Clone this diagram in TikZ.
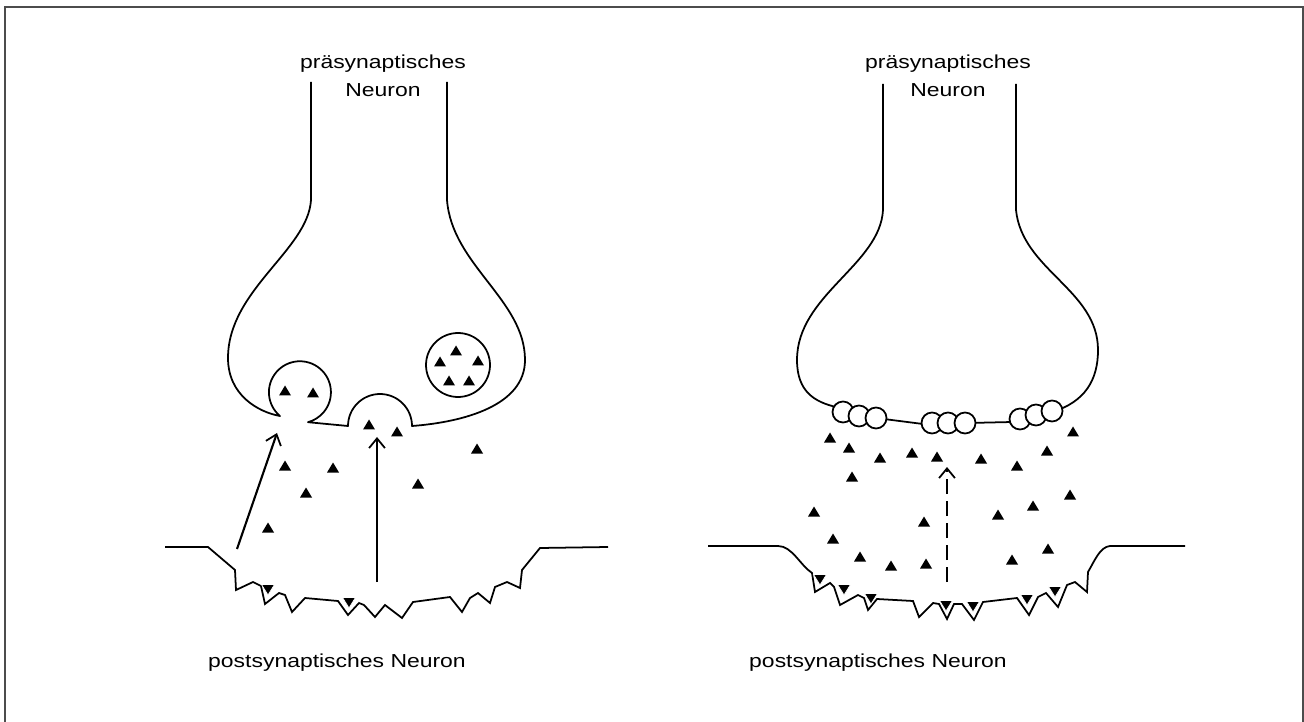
\documentclass[tikz,border=0pt]{standalone}
\usepackage{fontspec}
\newfontfamily\labelfont{Liberation Sans}[FakeStretch=1.22]
\usetikzlibrary{arrows.meta}
\begin{document}
\begin{tikzpicture}[x=0.02cm,y=-0.02cm,
  outline/.style={line width=1pt, line join=round},
  membrane/.style={line width=1pt, line join=miter, miter limit=4},
  txt/.style={font=\labelfont\fontsize{10.7}{12}\selectfont, inner sep=0pt, anchor=base},
  flow/.style={line width=1.2pt, -{Straight Barb[length=5.5pt,width=9pt,line width=1pt]}},
  bound/.style={fill=black, draw=white, line width=0.4pt},
]
\useasboundingbox (0,0) rectangle (1304,722);
% frame
\draw[line width=1.2pt, gray!60!black] (5,722) -- (5,7) -- (1303,7) -- (1303,722);

% ---------- left synapse ----------
% presynaptic terminal with fusing vesicles
\draw[outline] (311,82) -- (311,200)
  .. controls (308,250) and (228,290) .. (228,358)
  .. controls (228,395) and (258,412) .. (280,416)
  arc[start angle=130, end angle=435, radius=31]
  -- (348,426)
  arc[start angle=180, end angle=360, radius=32]
  .. controls (465,422) and (525,405) .. (525,360)
  .. controls (525,300) and (452,265) .. (447,200) -- (447,82);
% storage vesicle
\draw[outline] (458,365) circle[radius=32];
% transmitter molecules
\foreach \px/\py in {456/351, 440/362, 478/361, 449/381, 469/381,
                     285/391, 313/393, 369/425, 397/432,
                     285/466, 333/468, 306/493, 268/528, 418/484, 477/449}
  \fill (\px,\py) ++(-6,4.5) -- ++(12,0) -- ++(-6,-10) -- cycle;
% diffusion arrows
\coordinate (aL1s) at (237,549);
\coordinate (aL1e) at (277,433);
\coordinate (aL2s) at (377,582);
\coordinate (aL2e) at (377,437);
\draw[flow] (aL1s) -- (aL1e);
\draw[flow] (aL2s) -- (aL2e);
% postsynaptic membrane with receptors
\draw[membrane] (165,547) -- (208,547) -- (235,570) -- (236,590) -- (253,582)
  -- (261,586) -- (265,604) -- (279,593) -- (285,595) -- (292,612) -- (305,598)
  -- (338,601) -- (348,615) -- (359,603) -- (364,605) -- (375,617) -- (385,605)
  -- (402,618) -- (413,602) -- (450,597) -- (462,612) -- (470,598) -- (478,593)
  -- (490,603) -- (495,587) -- (507,582) -- (520,588) -- (522,570) -- (540,548)
  -- (608,547);
\foreach \px/\py in {268/589, 349/602}
  \filldraw[bound] (\px,\py) ++(-6.5,-4.5) -- ++(13,0) -- ++(-6.5,10.5) -- cycle;

% ---------- right synapse ----------
\draw[outline] (883,84) -- (883,210)
  .. controls (880,265) and (797,295) .. (797,360)
  .. controls (797,392) and (815,402) .. (836,407)
  -- (876,418) -- (923,424) -- (1012,422) -- (1052,412)
  .. controls (1085,402) and (1098,380) .. (1098,350)
  .. controls (1098,290) and (1022,270) .. (1016,210) -- (1016,84);
% emptied vesicles in the membrane
\foreach \cx/\cy in {843/412, 859/416, 876/418, 932/423, 948/423, 965/423,
                     1020/419, 1036/415, 1052/411}
  \filldraw[outline, fill=white] (\cx,\cy) circle[radius=10.5];
% transmitter molecules in the cleft
\foreach \px/\py in {830/438, 849/448, 880/458, 912/453, 937/457, 981/459,
                     1017/466, 1047/451, 1073/432, 852/477, 814/512, 924/522,
                     998/515, 1033/506, 1070/495, 833/539, 860/557, 891/566,
                     926/564, 1012/560, 1048/549}
  \fill (\px,\py) ++(-6,4.5) -- ++(12,0) -- ++(-6,-10) -- cycle;
% dashed arrow
\coordinate (aRs) at (947,582);
\coordinate (aRe) at (947,467);
\draw[flow, line width=1.3pt, dash pattern=on 8.5pt off 4pt] (aRs) -- (aRe);
% postsynaptic membrane with occupied receptors
\draw[membrane] (708,546) -- (778,546) .. controls (792,546) and (800,565) .. (812,573)
  -- (815,592) -- (830,583) -- (834,587) -- (840,605) -- (858,595) -- (864,598)
  -- (868,610) -- (877,599) -- (913,601) -- (919,617) -- (933,603) -- (939,604)
  -- (947,619) -- (954,604) -- (962,604) -- (974,620) -- (983,602) -- (1017,598)
  -- (1029,615) -- (1038,597) -- (1046,593) -- (1058,607) -- (1067,585) -- (1075,582)
  -- (1087,592) -- (1088,572) .. controls (1095,560) and (1100,547) .. (1110,546)
  -- (1185,546);
\foreach \px/\py in {820/579, 844/589, 871/598, 946/605, 973/606, 1027/599, 1055/591}
  \filldraw[bound] (\px,\py) ++(-6.5,-4.5) -- ++(13,0) -- ++(-6.5,10.5) -- cycle;

% ---------- labels ----------
\node[txt] (preL1) at (383,69) {präsynaptisches};
\node[txt] (preL2) at (383,97) {Neuron};
\node[txt] (preR1) at (948,69) {präsynaptisches};
\node[txt] (preR2) at (948,97) {Neuron};
\node[txt] (postL) at (337,667) {postsynaptisches Neuron};
\node[txt] (postR) at (878,667) {postsynaptisches Neuron};
\end{tikzpicture}
\end{document}
